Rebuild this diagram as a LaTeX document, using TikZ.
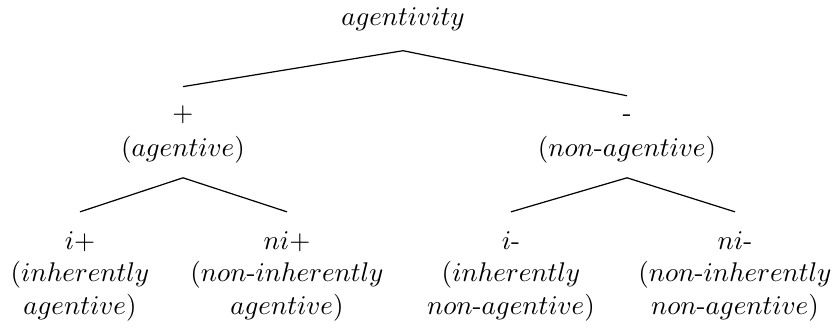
\documentclass[tikz,border=0pt]{standalone}
\usetikzlibrary{positioning}
\begin{document}
\begin{tikzpicture}[
    x=0.37pt, y=-0.37pt,
    feat/.style={align=center, inner xsep=0pt, inner ysep=7pt, anchor=base},
    branch/.style={line width=0.45pt},
  ]
    \useasboundingbox (0,0) rectangle (834,330);
    % Nodes (base = last line)
    \node[feat] (root) at (403,26) {$agentivity$};
    \node[feat] (pos) at (183,157) {$+$\\[1pt]$(agentive)$};
    \node[feat] (neg) at (627,157) {-\\[1pt]$(non$-$agentive)$};
    \node[feat] (ipos) at (80,314) {$i+$\\$(inherently$\\$agentive)$};
    \node[feat] (nipos) at (287,314) {$ni+$\\$(non$-$inherently$\\$agentive)$};
    \node[feat] (ineg) at (511,314) {$i$-\\$(inherently$\\$non$-$agentive)$};
    \node[feat] (nineg) at (735,314) {$ni$-\\$(non$-$inherently$\\$non$-$agentive)$};

    % Branches
    \draw[branch] (root.south) -- (pos.north);
    \draw[branch] (root.south) -- (neg.north);
    \draw[branch] ([yshift=2pt]pos.south) -- (ipos.north);
    \draw[branch] ([yshift=2pt]pos.south) -- (nipos.north);
    \draw[branch] ([yshift=2pt]neg.south) -- (ineg.north);
    \draw[branch] ([yshift=2pt]neg.south) -- (nineg.north);
\end{tikzpicture}
\end{document}
